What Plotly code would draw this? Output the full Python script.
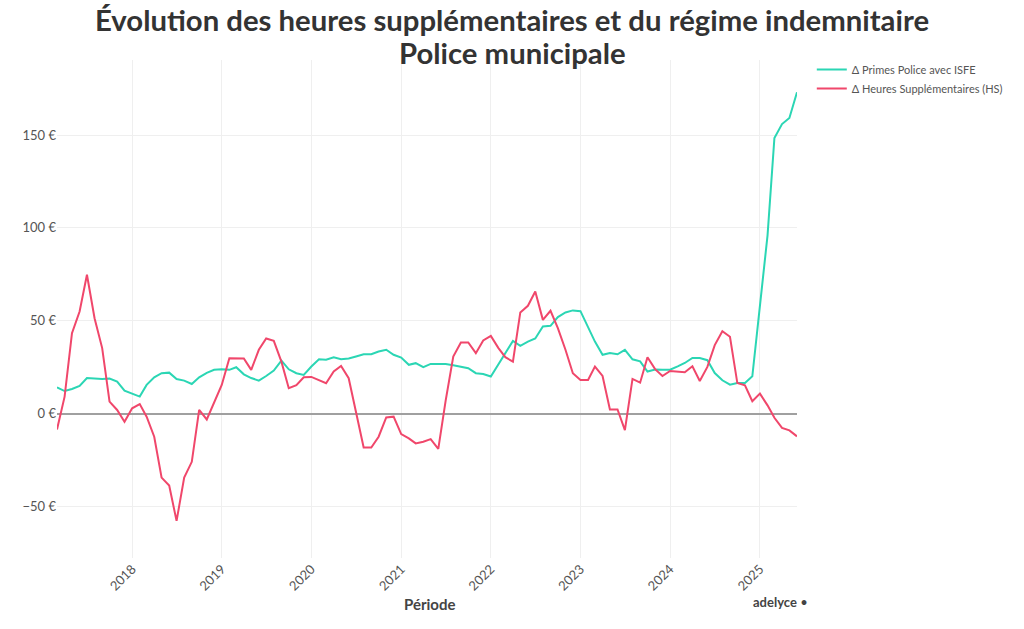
import pandas as pd
import plotly.graph_objects as go

months = pd.date_range("2017-03-01", "2025-06-01", freq="MS")

primes_isfe = [
    14.2, 12.2, 13.3, 14.9, 19.2, 18.9, 18.7, 18.9, 17.3, 12.4,
    11.0, 9.2, 15.5, 19.6, 21.8, 22.1, 18.7, 17.8, 16.0, 19.6, 22.0, 23.6,
    23.9, 23.6, 25.0, 21.2, 19.2, 17.8, 20.3, 23.2, 28.6, 23.9, 21.8, 20.9,
    25.4, 29.3, 29.0, 30.4, 29.3, 29.7, 30.8, 32.0, 32.0, 33.5, 34.4, 31.7,
    30.2, 26.3, 27.2, 25.0, 26.8, 26.8, 26.8, 26.1, 25.4, 24.5, 21.8, 21.4,
    20.0, 26.5, 32.8, 39.2, 36.5, 38.8, 40.5, 46.9, 47.3, 52.0, 54.5, 55.6,
    55.2, 46.9, 38.8, 31.7, 32.6, 32.0, 34.4, 29.3, 28.2, 22.7, 23.8, 23.7,
    23.7, 25.5, 27.3, 30.0, 30.0, 28.8, 21.9, 18.0, 15.6, 16.5, 16.5, 20.1,
    57.0, 96.0, 148.4, 155.9, 159.2, 173.0,
]

heures_sup = [
    -8.5, 9.2, 43.3, 55.0, 74.8, 51.4, 35.3, 6.5, 2.0, -4.3,
    2.9, 5.2, -1.6, -12.4, -34.4, -38.7, -57.7, -34.4, -25.9, 2.0, -3.1, 6.5,
    15.5, 29.9, 29.7, 29.7, 23.6, 34.4, 40.5, 39.2, 28.0, 13.7, 15.3, 19.6,
    19.8, 18.2, 16.4, 22.7, 25.7, 19.1, 0.5, -18.2, -18.2, -12.4, -2.0, -1.6,
    -11.0, -13.3, -16.0, -15.1, -13.7, -18.9, 7.0, 30.8, 38.3, 38.3, 32.6, 39.4,
    41.9, 35.3, 30.4, 28.0, 54.5, 58.1, 65.8, 50.5, 55.4, 46.0, 34.4, 21.8,
    18.2, 18.2, 25.4, 20.3, 2.3, 2.3, -8.8, 18.7, 16.7, 30.4, 24.0, 20.3,
    23.0, 22.7, 22.3, 25.5, 17.6, 25.2, 36.9, 44.4, 41.4, 16.5, 15.3, 6.7,
    10.8, 4.5, -2.2, -7.6, -9.0, -12.2,
]

series_names = ["Δ Primes Police avec ISFE", "Δ Heures Supplémentaires (HS)"]
title_lines = ["Évolution des heures supplémentaires et du régime indemnitaire", "Police municipale"]
x_title = "Période"
brand = "<b>adelyce</b> •"

FONT = "Lato"

# page layout in pixels (the body margin is removed so the figure starts at 0,0)
PLOT_L, PLOT_R, PLOT_T, PLOT_B = 57, 797, 60, 558
W, H = 1024, 629


def px(x):
    return (x - PLOT_L) / (PLOT_R - PLOT_L)


def py(y):
    return (PLOT_B - y) / (PLOT_B - PLOT_T)


fig = go.Figure()
fig.add_trace(go.Scatter(x=months, y=primes_isfe, mode="lines", name=series_names[0],
                         line=dict(color="#2bd6b4", width=2)))
fig.add_trace(go.Scatter(x=months, y=heures_sup, mode="lines", name=series_names[1],
                         line=dict(color="#f0476b", width=2)))

fig.update_layout(
    width=W, height=H,
    paper_bgcolor="white", plot_bgcolor="white",
    margin=dict(l=PLOT_L, r=W - PLOT_R, t=PLOT_T, b=H - PLOT_B, autoexpand=False),
    font=dict(family=FONT, color="#555555", size=13),
    legend=dict(x=1.02, y=py(55), xanchor="left", yanchor="top",
                font=dict(size=11, color="#555555"), bgcolor="rgba(0,0,0,0)",
                tracegroupgap=0),
    showlegend=True,
)

fig.update_xaxes(
    dtick="M12", tickformat="%Y", tickangle=-45, automargin=False,
    showgrid=True, gridcolor="#efefef", gridwidth=1,
    showline=False, zeroline=False,
    tickfont=dict(size=13, color="#555555"),
)
fig.update_yaxes(
    dtick=50, ticksuffix=" €", range=[-(558 - 413.7) / 1.858, (413.7 - 60) / 1.858],
    automargin=False,
    showgrid=True, gridcolor="#efefef", gridwidth=1,
    zeroline=True, zerolinecolor="#a0a0a0", zerolinewidth=2,
    showline=False,
    tickfont=dict(size=13, color="#555555"),
)

# title lines
fig.add_annotation(text="<b>" + title_lines[0] + "</b>", xref="paper", yref="paper",
                   x=px(512), y=py(19), xanchor="center", yanchor="middle",
                   showarrow=False, font=dict(size=29.3, color="#333333", family=FONT))
fig.add_annotation(text="<b>" + title_lines[1] + "</b>", xref="paper", yref="paper",
                   x=px(512), y=py(52), xanchor="center", yanchor="middle",
                   showarrow=False, font=dict(size=29.3, color="#333333", family=FONT))

fig.add_annotation(text="<b>" + x_title + "</b>", xref="paper", yref="paper",
                   x=px(430), y=py(604), xanchor="center", yanchor="middle",
                   showarrow=False, font=dict(size=15, color="#444444", family=FONT))

fig.add_annotation(text=brand, xref="paper", yref="paper",
                   x=px(810), y=py(602), xanchor="right", yanchor="middle",
                   showarrow=False, font=dict(size=13, color="#444444", family=FONT))

fig.write_html("out.html", config={"displayModeBar": False},
               post_script="document.body.style.margin='0';")
